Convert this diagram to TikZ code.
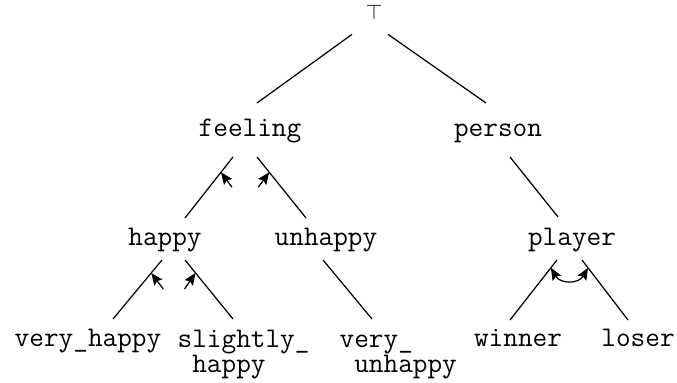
\documentclass[tikz,border=0pt]{standalone}
\usepackage{fontspec}
\usetikzlibrary{arrows.meta, calc}
\newcommand{\treefont}{\ttfamily\fontsize{16.2}{14.4}\selectfont}

\begin{document}
\begin{tikzpicture}[>={Stealth[length=2.4mm, width=2mm, inset=0.4mm]}, line width=0.7pt,
  word/.style={font=\treefont, inner sep=0pt, anchor=base},
  word2/.style={word, anchor=base west, align=left}]
  \useasboundingbox (0,0) rectangle (13.54,7.66);
  % --- nodes, placed at their baselines (two-line ones at the second line) ---
  \node[inner sep=0pt, anchor=north, font=\fontsize{12}{12}\selectfont] (top) at (7.48,7.58) {$\top$};
  \node[word] (feeling) at (5.00,4.92) {feeling};
  \node[word] (person) at (9.96,4.92) {person};
  \node[word] (happy) at (3.30,2.74) {happy};
  \node[word] (unhappy) at (6.52,2.74) {unhappy};
  \node[word] (player) at (11.44,2.74) {player};
  \node[word] (vhappy) at (1.76,0.72) {very\_happy};
  \node[word2] (shappy) at (3.54,0.21) {slightly\_\\\hphantom{x}happy};
  \node[word2] (vunhappy) at (6.78,0.21) {very\_\\\hphantom{x}unhappy};
  \node[word] (winner) at (10.36,0.72) {winner};
  \node[word] (loser) at (12.76,0.72) {loser};
  % --- edges ---
  \draw ($(top.south)+(-0.44,-0.29)$) -- ($(feeling.base)+(0.14,0.68)$);
  \draw ($(top.south)+(0.28,-0.29)$) -- ($(person.base)+(-0.24,0.68)$);
  \draw ($(feeling.base)+(-0.34,-0.40)$) -- coordinate[pos=0.25] (fh) ($(happy.base)+(0.40,0.56)$);
  \draw ($(feeling.base)+(0.14,-0.40)$) -- coordinate[pos=0.25] (fu) ($(unhappy.base)+(-0.40,0.56)$);
  \draw ($(person.base)+(0.24,-0.40)$) -- ($(player.base)+(-0.28,0.58)$);
  \draw ($(happy.base)+(-0.06,-0.28)$) -- coordinate[pos=0.22] (hv) ($(vhappy.base)+(0.50,0.56)$);
  \draw ($(happy.base)+(0.40,-0.28)$) -- coordinate[pos=0.22] (hs) ($(shappy.base west)+(1.12,1.07)$);
  \draw ($(unhappy.base)+(-0.06,-0.28)$) -- ($(vunhappy.base west)+(0.66,1.07)$);
  \draw ($(player.base)+(-0.30,-0.28)$) -- coordinate[pos=0.13] (pw) ($(winner.base)+(-0.16,0.54)$);
  \draw ($(player.base)+(0.20,-0.28)$) -- coordinate[pos=0.13] (pl) ($(loser.base)+(-0.20,0.54)$);
  % --- arrows onto the edges ---
  \draw[->] ($(fh)+(0.22,-0.30)$) -- (fh);
  \draw[->] ($(fu)+(-0.22,-0.30)$) -- (fu);
  \draw[->] ($(hv)+(0.24,-0.32)$) -- (hv);
  \draw[->] ($(hs)+(-0.22,-0.32)$) -- (hs);
  \draw[<->] (pw) to[bend right=60, looseness=1.3] (pl);
\end{tikzpicture}
\end{document}
